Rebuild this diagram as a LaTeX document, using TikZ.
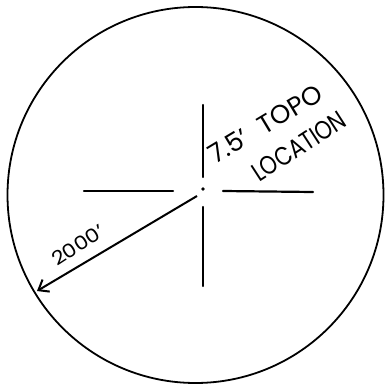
\documentclass[tikz,border=0pt]{standalone}
\usepackage{fontspec}
\setmainfont{Poppins}
\usetikzlibrary{arrows.meta}
\begin{document}
\begin{tikzpicture}[x=1pt,y=-1pt,
  ink/.style={line width=2.2pt,line cap=round,black},
  lbl/.style={inner sep=0pt,anchor=base west}]
\useasboundingbox (0,0) rectangle (390,390);
\coordinate (O) at (195.5,195);
\draw[line width=1.8pt] (O) circle (188);
\coordinate (ctr) at (203,189);
\fill (ctr) circle (1.8);
% crosshair
\coordinate (vt1) at (203,105);
\coordinate (vt2) at (203,177);
\coordinate (vb1) at (203,207);
\coordinate (vb2) at (203,286);
\coordinate (hl1) at (84,191);
\coordinate (hl2) at (173,191);
\coordinate (hr1) at (223,191);
\coordinate (hr2) at (313,192);
\draw[ink] (vt1) -- (vt2);
\draw[ink] (vb1) -- (vb2);
\draw[ink] (hl1) -- (hl2);
\draw[ink] (hr1) -- (hr2);
% radius arrow
\coordinate (rs) at (197,196);
\coordinate (re) at (37,291);
\draw[line width=2pt,-{Straight Barb[length=9pt,width=14pt,line width=2pt]}] (rs) -- (re);
\node[lbl,rotate=33,font=\fontsize{19}{19}\selectfont] (dist) at (57,267) {\scalebox{1.15}[1]{2000'}};
\node[lbl,rotate=31,font=\fontsize{26}{26}\selectfont] (l1) at (215,165) {7.5'\hspace{16pt}TOPO};
\node[lbl,rotate=33,font=\fontsize{26}{26}\selectfont] (l2) at (259,183) {\scalebox{0.83}[1]{LOCATION}};
\end{tikzpicture}
\end{document}
